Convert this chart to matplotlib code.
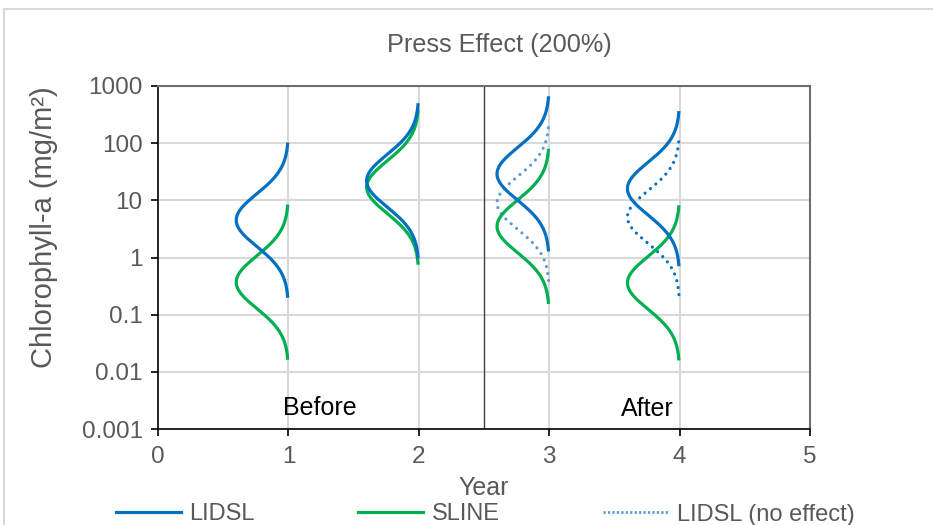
import numpy as np
import matplotlib
matplotlib.use("Agg")
import matplotlib.pyplot as plt
from matplotlib.patches import Rectangle
from matplotlib.ticker import FixedLocator, FixedFormatter
from matplotlib.lines import Line2D

plt.rcParams['font.family'] = ['Liberation Sans', 'DejaVu Sans']

# ---- data ----
# each curve = lognormal density drawn sideways at a given year
lidsl_year = [1, 2, 3, 4]
lidsl_median = [4.5, 22.0, 29.0, 16.0]          # mg/m2 (peak position)
sline_year = [1, 2, 3, 4]
sline_median = [0.37, 17.0, 3.5, 0.36]
noeff_year = [3, 4]
noeff_median = [9.0, 5.1]
log_sd = 0.46            # sd of log10(chl-a)
peak_width = 0.4         # max sideways extent (years)

ytick_vals = [0.001, 0.01, 0.1, 1, 10, 100, 1000]
ytick_labels = ['0.001', '0.01', '0.1', '1', '10', '100', '1000']
xtick_vals = [0, 1, 2, 3, 4, 5]

BLUE = '#0070C0'
GREEN = '#00B050'
LBLUE = '#5B9BD5'
GRAY = '#595959'


def curve(year, median):
    mu = np.log10(median)
    z = np.linspace(-2.95, 2.95, 300)
    ly = mu + z * log_sd
    x = year - peak_width * np.exp(-0.5 * z ** 2)
    return x, 10 ** ly


fig = plt.figure(figsize=(9.33, 5.25), dpi=100)
ax = fig.add_axes([158 / 933, 1 - 429 / 525, (810 - 158) / 933, (429 - 86) / 525])

# chart area border (light)
fig.patches.append(Rectangle((4 / 933, -0.1), 1.2, 1.1 - 9 / 525,
                             transform=fig.transFigure, fill=False,
                             edgecolor='#D9D9D9', lw=1.5, zorder=0))

ax.set_yscale('log')
ax.set_xlim(0, 5)
ax.set_ylim(0.001, 1000)

ax.yaxis.set_major_locator(FixedLocator(ytick_vals))
ax.yaxis.set_major_formatter(FixedFormatter(ytick_labels))
ax.yaxis.set_minor_locator(FixedLocator([]))
ax.set_xticks(xtick_vals)

for v in ytick_vals[1:-1]:
    ax.axhline(v, color='#D9D9D9', lw=1.5, zorder=0)
for v in xtick_vals[1:-1]:
    ax.axvline(v, color='#D9D9D9', lw=1.5, zorder=0)
ax.axvline(2.5, color='#404040', lw=1.0, zorder=1)

lw = 2.3
for i, (yr, md) in enumerate(zip(sline_year, sline_median)):
    x, y = curve(yr, md)
    ax.plot(x, y, color=GREEN, lw=lw, solid_capstyle='butt', zorder=3)
for i, (yr, md) in enumerate(zip(lidsl_year, lidsl_median)):
    x, y = curve(yr, md)
    ax.plot(x, y, color=BLUE, lw=lw, solid_capstyle='butt', zorder=4)
noeff_colors = [LBLUE, BLUE]
for i, (yr, md) in enumerate(zip(noeff_year, noeff_median)):
    x, y = curve(yr, md)
    ax.plot(x, y, color=noeff_colors[i], lw=lw, linestyle=(0, (0.01, 2.2)),
            dash_capstyle='round', zorder=2)

ax.text(1.24, 0.0023, 'Before', fontsize=18, ha='center', va='center', color='black')
ax.text(3.75, 0.0022, 'After', fontsize=18, ha='center', va='center', color='black')

for s in ['left', 'bottom']:
    ax.spines[s].set_color('black')
    ax.spines[s].set_linewidth(1.2)
for s in ['top', 'right']:
    ax.spines[s].set_color('#6e6e6e')
    ax.spines[s].set_linewidth(1.5)

ax.tick_params(axis='both', direction='out', length=5, width=1.2, color='black',
               labelcolor=GRAY, labelsize=17.5, pad=6)
ax.tick_params(axis='x', pad=7)

fig.text(499 / 933, 1 - 45 / 525, 'Press Effect (200%)', fontsize=18.2, color=GRAY,
         ha='center', va='center')
ax.set_xlabel('Year', fontsize=18, color=GRAY, labelpad=6)
ax.set_ylabel('Chlorophyll-a (mg/m²)', fontsize=21, color=GRAY)
ax.yaxis.set_label_coords((58 - 158) / 652, (429 - 227) / 343)

handles = [Line2D([], [], color=BLUE, lw=2.3),
           Line2D([], [], color=GREEN, lw=2.3),
           Line2D([], [], color=LBLUE, lw=2.0, linestyle=(0, (0.8, 0.8)))]
fig.legend(handles, ['LIDSL', 'SLINE', 'LIDSL (no effect)'], loc='center',
           bbox_to_anchor=(485 / 933, 1 - 514.5 / 525), ncol=3, frameon=False,
           fontsize=17, labelcolor=GRAY, handlelength=2.75, handletextpad=0.35,
           columnspacing=4.4, borderpad=0)

fig.savefig('out.png', dpi=100)
